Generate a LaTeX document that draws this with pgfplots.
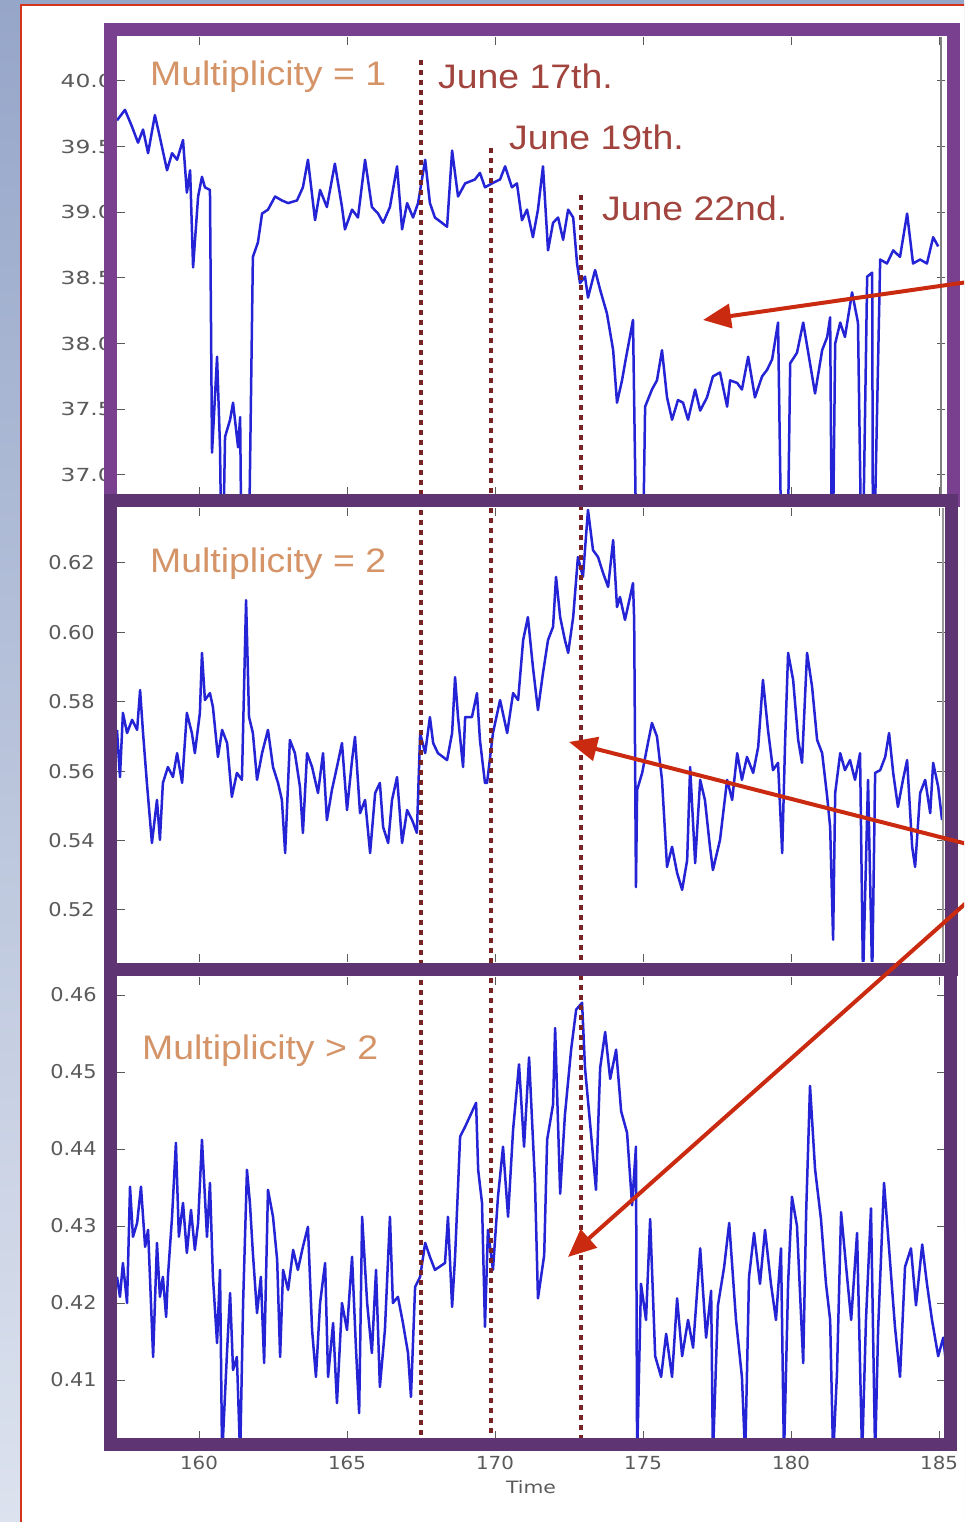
\documentclass[border=0pt]{standalone}
\usepackage{fontspec}
\setmainfont{Liberation Sans}
\newfontfamily\tickfont{DejaVu Sans}
\usepackage{graphicx}
\usepackage{pgfplots}
\usepackage{pgfplotstable}
\pgfplotsset{compat=1.18}
\usetikzlibrary{arrows.meta}
\definecolor{bgtop}{RGB}{150,166,201}
\definecolor{bgbot}{RGB}{220,226,238}
\definecolor{redb}{RGB}{212,52,28}
\definecolor{frameA}{RGB}{121,64,143}
\definecolor{frameB}{RGB}{94,52,114}
\definecolor{junec}{RGB}{162,68,62}
\definecolor{multc}{RGB}{212,148,104}
\definecolor{dotc}{RGB}{120,36,36}
\definecolor{arrowc}{RGB}{202,42,16}
\definecolor{lineb}{RGB}{36,36,214}
\definecolor{tickgray}{RGB}{90,90,90}

\pgfplotstableread{
t y
157.23 39.70
157.50 39.78
157.74 39.65
157.94 39.53
158.11 39.63
158.28 39.45
158.51 39.74
158.68 39.57
158.92 39.32
159.09 39.45
159.26 39.40
159.46 39.55
159.59 39.15
159.70 39.32
159.80 38.58
159.97 39.12
160.10 39.27
160.20 39.19
160.37 39.17
160.44 37.17
160.61 37.90
160.71 37.21
160.78 36.00
160.88 37.29
161.05 37.42
161.15 37.55
161.32 37.21
161.39 37.44
161.45 36.00
161.66 36.00
161.82 38.66
161.99 38.77
162.13 38.99
162.33 39.02
162.57 39.12
162.80 39.09
163.01 39.07
163.31 39.09
163.51 39.19
163.68 39.40
163.92 38.94
164.09 39.17
164.32 39.04
164.59 39.37
164.83 39.04
164.93 38.87
165.17 39.02
165.37 38.96
165.61 39.40
165.84 39.04
166.05 38.99
166.22 38.92
166.45 39.04
166.69 39.35
166.86 38.87
167.03 39.07
167.23 38.96
167.40 39.07
167.64 39.40
167.80 39.07
167.97 38.96
168.38 38.89
168.55 39.47
168.75 39.12
168.99 39.22
169.32 39.25
169.49 39.30
169.66 39.19
169.90 39.22
170.17 39.25
170.34 39.35
170.57 39.19
170.74 39.22
170.91 38.94
171.08 39.02
171.28 38.81
171.45 39.02
171.62 39.35
171.79 38.71
171.96 38.92
172.13 38.96
172.30 38.79
172.47 39.02
172.64 38.96
172.77 38.61
172.87 38.46
173.04 38.51
173.14 38.35
173.38 38.56
173.55 38.41
173.78 38.23
173.99 37.95
174.12 37.55
174.29 37.72
174.39 37.85
174.66 38.18
174.80 36.00
174.97 36.00
175.07 37.52
175.30 37.65
175.47 37.72
175.64 37.95
175.81 37.59
175.98 37.42
176.18 37.57
176.35 37.55
176.52 37.42
176.76 37.65
176.93 37.49
177.16 37.59
177.36 37.75
177.60 37.78
177.84 37.52
177.94 37.72
178.18 37.70
178.34 37.65
178.55 37.90
178.78 37.59
179.02 37.75
179.19 37.80
179.36 37.88
179.56 38.16
179.70 36.00
179.86 36.00
179.97 37.85
180.20 37.93
180.41 38.16
180.64 37.85
180.81 37.62
181.05 37.95
181.22 38.05
181.32 38.20
181.39 36.00
181.49 38.00
181.66 38.16
181.82 38.05
182.06 38.39
182.26 38.16
182.40 36.00
182.57 38.51
182.74 38.54
182.77 36.00
183.01 38.64
183.24 38.61
183.45 38.71
183.68 38.66
183.92 38.99
184.12 38.61
184.36 38.64
184.59 38.61
184.80 38.81
184.97 38.74
}\mone

\pgfplotstableread{
t y
157.23 .5719
157.33 .5583
157.43 .5768
157.57 .5710
157.74 .5748
157.91 .5719
158.01 .5834
158.11 .5710
158.24 .5566
158.41 .5393
158.58 .5517
158.68 .5402
158.78 .5566
158.95 .5612
159.12 .5583
159.26 .5652
159.43 .5566
159.59 .5768
159.76 .5710
159.86 .5652
160.03 .5768
160.10 .5941
160.20 .5805
160.37 .5825
160.47 .5785
160.64 .5641
160.78 .5719
160.95 .5681
161.11 .5526
161.28 .5595
161.45 .5575
161.59 .6093
161.69 .5756
161.82 .5710
161.96 .5575
162.13 .5652
162.33 .5719
162.50 .5612
162.67 .5566
162.80 .5517
162.91 .5364
163.07 .5690
163.24 .5652
163.41 .5555
163.51 .5422
163.65 .5652
163.82 .5612
164.02 .5537
164.19 .5652
164.32 .5459
164.49 .5546
164.66 .5612
164.83 .5681
165.00 .5488
165.17 .5632
165.27 .5699
165.44 .5479
165.61 .5517
165.78 .5364
165.95 .5537
166.11 .5566
166.22 .5439
166.39 .5393
166.52 .5517
166.69 .5583
166.86 .5393
167.03 .5488
167.20 .5459
167.36 .5422
167.47 .5710
167.64 .5652
167.80 .5756
167.91 .5681
168.07 .5652
168.38 .5632
168.55 .5710
168.65 .5871
168.75 .5756
168.92 .5612
168.99 .5756
169.22 .5756
169.39 .5825
169.49 .5690
169.66 .5566
169.73 .5566
169.93 .5710
170.17 .5805
170.41 .5710
170.61 .5825
170.78 .5805
170.95 .5978
171.11 .6044
171.28 .5900
171.45 .5776
171.62 .5883
171.79 .5978
171.96 .6016
172.06 .6160
172.20 .6044
172.36 .5978
172.47 .5941
172.64 .6044
172.80 .6217
172.97 .6160
173.14 .6353
173.31 .6237
173.48 .6217
173.65 .6171
173.82 .6131
173.99 .6266
174.12 .6073
174.22 .6102
174.39 .6036
174.56 .6102
174.66 .6142
174.70 .6036
174.76 .5266
174.80 .5546
174.97 .5595
175.14 .5670
175.30 .5739
175.47 .5700
175.64 .5575
175.81 .5324
175.98 .5382
176.15 .5307
176.32 .5258
176.49 .5344
176.59 .5612
176.76 .5335
176.93 .5575
177.09 .5517
177.26 .5382
177.36 .5315
177.60 .5402
177.84 .5575
178.01 .5517
178.18 .5652
178.34 .5575
178.51 .5641
178.72 .5595
178.89 .5670
179.05 .5863
179.22 .5719
179.39 .5603
179.56 .5624
179.70 .5364
179.80 .5690
179.90 .5941
180.07 .5863
180.24 .5690
180.37 .5624
180.54 .5941
180.71 .5843
180.88 .5690
181.05 .5652
181.22 .5526
181.32 .5439
181.42 .5114
181.49 .5537
181.66 .5652
181.82 .5603
181.99 .5632
182.16 .5575
182.33 .5652
182.43 .5000
182.60 .5575
182.74 .5000
182.84 .5595
183.01 .5603
183.18 .5641
183.31 .5710
183.45 .5595
183.61 .5497
183.78 .5575
183.92 .5632
184.09 .5382
184.19 .5324
184.36 .5537
184.53 .5575
184.70 .5479
184.80 .5624
184.97 .5555
185.10 .5459
}\mtwo

\pgfplotstableread{
t y
157.23 .4234
157.33 .4208
157.43 .4252
157.57 .4200
157.67 .4351
157.77 .4286
157.91 .4304
158.04 .4351
158.18 .4273
158.28 .4295
158.45 .4130
158.58 .4278
158.68 .4208
158.78 .4234
158.89 .4182
158.95 .4234
159.09 .4312
159.22 .4408
159.32 .4286
159.46 .4330
159.59 .4265
159.73 .4321
159.86 .4269
159.97 .4304
160.10 .4412
160.27 .4286
160.37 .4356
160.47 .4234
160.61 .4148
160.71 .4243
160.78 .4000
160.95 .4139
161.05 .4213
161.15 .4113
161.28 .4130
161.39 .4000
161.49 .4200
161.62 .4373
161.72 .4330
161.82 .4265
161.96 .4187
162.09 .4234
162.20 .4122
162.33 .4347
162.50 .4312
162.64 .4256
162.74 .4130
162.84 .4243
163.01 .4217
163.18 .4269
163.34 .4243
163.51 .4273
163.68 .4299
163.82 .4165
163.95 .4104
164.09 .4200
164.26 .4252
164.36 .4104
164.53 .4174
164.66 .4070
164.83 .4200
165.00 .4165
165.17 .4260
165.30 .4143
165.41 .4057
165.51 .4312
165.68 .4200
165.84 .4135
165.98 .4243
166.11 .4091
166.28 .4165
166.45 .4312
166.55 .4200
166.72 .4208
166.89 .4174
167.06 .4135
167.16 .4078
167.30 .4221
167.47 .4234
167.64 .4278
167.80 .4260
167.97 .4243
168.31 .4252
168.41 .4312
168.55 .4195
168.65 .4260
168.75 .4351
168.82 .4416
168.99 .4429
169.36 .4460
169.43 .4373
169.56 .4330
169.66 .4169
169.76 .4295
169.93 .4243
170.10 .4338
170.27 .4403
170.44 .4312
170.61 .4425
170.81 .4510
170.98 .4403
171.15 .4519
171.35 .4356
171.45 .4206
171.66 .4262
171.76 .4412
171.96 .4458
172.03 .4557
172.20 .4342
172.36 .4444
172.57 .4529
172.74 .4581
172.94 .4590
173.04 .4505
173.24 .4421
173.41 .4347
173.55 .4505
173.72 .4552
173.89 .4491
174.09 .4529
174.26 .4449
174.46 .4421
174.63 .4327
174.76 .4403
174.80 .4000
174.93 .4225
175.10 .4178
175.24 .4309
175.41 .4131
175.61 .4104
175.78 .4160
175.98 .4104
176.15 .4206
176.32 .4131
176.52 .4178
176.69 .4142
176.93 .4271
177.13 .4155
177.30 .4216
177.36 .4000
177.53 .4197
177.74 .4247
177.91 .4304
178.14 .4178
178.34 .4104
178.45 .4000
178.58 .4234
178.75 .4291
178.95 .4225
179.12 .4295
179.32 .4225
179.49 .4178
179.66 .4271
179.76 .4000
179.90 .4225
180.03 .4338
180.20 .4300
180.41 .4122
180.51 .4318
180.64 .4482
180.81 .4374
181.01 .4309
181.18 .4225
181.32 .4178
181.42 .4000
181.55 .4108
181.69 .4318
181.86 .4247
182.03 .4178
182.23 .4291
182.40 .4000
182.53 .4178
182.70 .4323
182.84 .4000
182.94 .4165
183.14 .4356
183.31 .4271
183.51 .4169
183.68 .4104
183.85 .4247
184.05 .4271
184.22 .4197
184.43 .4276
184.59 .4225
184.76 .4178
184.97 .4131
185.14 .4155
185.34 .4084
}\mthree

\pgfplotsset{
  panel/.style={
    anchor=south west, scale only axis, width=828pt,
    xmin=157.23, xmax=185.20,
    axis line style={draw=none},
    tick align=inside, major tick length=8pt,
    tick style={tickgray, line width=1pt},
    xtick={160,165,170,175,180,185},
    yticklabel style={font=\tickfont\fontsize{19}{19}\selectfont, text=tickgray, anchor=east, inner sep=0pt},
    xticklabel style={font=\tickfont\fontsize{18}{18}\selectfont, text=tickgray, anchor=center, inner sep=0pt, yshift=-24pt},
  },
  dataline/.style={lineb, line width=2.5pt, line join=round},
}

\begin{document}
\begin{tikzpicture}
\begin{scope}[x=1pt,y=1pt]
\useasboundingbox (0,0) rectangle (964,1522);
\clip (0,0) rectangle (964,1522);
\shade[top color=bgtop, bottom color=bgbot] (0,0) rectangle (964,1522);
\fill[white] (21,-10) rectangle (990,1517);
\draw[redb, line width=2pt] (21,-10) -- (21,1517) -- (990,1517);
\end{scope}

% top panel
\begin{axis}[panel, at={(117pt,1027pt)}, height=458pt,
  ymin=36.847, ymax=40.335,
  ytick={37,37.5,38,38.5,39,39.5,40},
  xticklabels={},
  yticklabel={\scalebox{1.3}[1]{\pgfmathprintnumber[fixed,fixed zerofill,precision=1,assume math mode=true]{\tick}}},
  yticklabel style={font=\tickfont\fontsize{18}{18}\selectfont, xshift=-4pt},
]
\addplot[dataline] table[x=t,y=y]{\mone};
\end{axis}

% middle panel
\begin{axis}[panel, at={(117pt,560pt)}, height=454pt,
  ymin=0.50501, ymax=0.63585,
  ytick={0.52,0.54,0.56,0.58,0.60,0.62},
  xticklabels={},
  yticklabel={\scalebox{1.1}[1]{\pgfmathprintnumber[fixed,fixed zerofill,precision=2,assume math mode=true]{\tick}}},
  yticklabel style={xshift=-22pt},
]
\addplot[dataline] table[x=t,y=y]{\mtwo};
\end{axis}

% bottom panel
\begin{axis}[panel, at={(117pt,83pt)}, height=462pt,
  ymin=0.40234, ymax=0.46234,
  ytick={0.41,0.42,0.43,0.44,0.45,0.46},
  yticklabel={\scalebox{1.1}[1]{\pgfmathprintnumber[fixed,fixed zerofill,precision=2,assume math mode=true]{\tick}}},
  yticklabel style={xshift=-20pt},
  xticklabel={\scalebox{1.1}[1]{\pgfmathprintnumber[assume math mode=true]{\tick}}},
  xlabel={\scalebox{1.2}[1]{Time}},
  xlabel style={font=\tickfont\fontsize{17}{17}\selectfont, text=tickgray, at={(axis description cs:0.5,0)}, anchor=center, inner sep=0pt, yshift=-48pt},
]
\addplot[dataline] table[x=t,y=y]{\mthree};
\end{axis}

\begin{scope}[x=1pt,y=1pt]
\clip (0,0) rectangle (964,1522);
% matplotlib right spines
\draw[gray, line width=1.5pt] (941,1485) -- (941,1027);
\draw[gray!80, line width=1.2pt] (943,1014) -- (943,560);
% event lines
\draw[dotc, line width=4.5pt, dash pattern=on 5pt off 5pt] (421,1462) -- (421,82);
\draw[dotc, line width=4.5pt, dash pattern=on 5pt off 5pt] (491,1374) -- (491,82);
\draw[dotc, line width=4.5pt, dash pattern=on 5pt off 5pt] (581,1327) -- (581,82);
% frames
\draw[frameA, line width=13pt] (110,1492) rectangle (953,1021);
\draw[frameB, line width=13pt] (110,1021) rectangle (951,552.5);
\draw[frameB, line width=13pt] (110,552.5) rectangle (950,77);
% texts
\def\sty{\fontsize{34}{34}\selectfont}
\node[text=multc, anchor=base west, inner sep=0pt] at (150,1436) {\sty\scalebox{1.1}[1]{Multiplicity = 1}};
\node[text=multc, anchor=base west, inner sep=0pt] at (150,949) {\sty\scalebox{1.1}[1]{Multiplicity = 2}};
\node[text=multc, anchor=base west, inner sep=0pt] at (142,462) {\sty\scalebox{1.1}[1]{Multiplicity > 2}};
\node[text=junec, anchor=base west, inner sep=0pt] at (438,1433) {\sty\scalebox{1.1}[1]{June 17th.}};
\node[text=junec, anchor=base west, inner sep=0pt] at (509,1372) {\sty\scalebox{1.1}[1]{June 19th.}};
\node[text=junec, anchor=base west, inner sep=0pt] at (602,1301) {\sty\scalebox{1.1}[1]{June 22nd.}};
% arrows
\draw[arrowc, line width=4pt, -{Triangle[length=28pt,width=24pt]}] (975,1241) -- (703,1202);
\draw[arrowc, line width=4pt, -{Triangle[length=28pt,width=24pt]}] (975,676) -- (569,780);
\draw[arrowc, line width=4pt, -{Triangle[length=28pt,width=24pt]}] (975,627) -- (568,265);
\end{scope}
\end{tikzpicture}
\end{document}
